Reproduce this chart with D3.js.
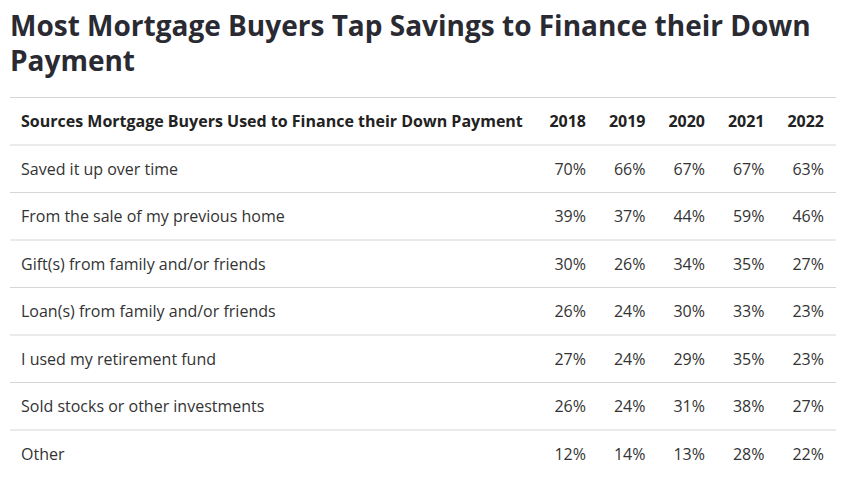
<!DOCTYPE html>
<html>
<head>
<meta charset="utf-8">
<script src="https://cdn.jsdelivr.net/npm/d3@7"></script>
<style>
  html, body { margin: 0; padding: 0; background: #fff; }
  svg { display: block; font-family: "Open Sans", sans-serif; }
</style>
</head>
<body>
<div id="chart"></div>
<script>
const titleLines = ['Most Mortgage Buyers Tap Savings to Finance their Down', 'Payment'];
const headerLabel = 'Sources Mortgage Buyers Used to Finance their Down Payment';
const years = ['2018', '2019', '2020', '2021', '2022'];
const sources = [
  'Saved it up over time',
  'From the sale of my previous home',
  'Gift(s) from family and/or friends',
  'Loan(s) from family and/or friends',
  'I used my retirement fund',
  'Sold stocks or other investments',
  'Other'
];
const v2018 = [70, 39, 30, 26, 27, 26, 12];
const v2019 = [66, 37, 26, 24, 24, 24, 14];
const v2020 = [67, 44, 34, 30, 29, 31, 13];
const v2021 = [67, 59, 35, 33, 35, 38, 28];
const v2022 = [63, 46, 27, 23, 23, 27, 22];
const series = [v2018, v2019, v2020, v2021, v2022];

const width = 846, height = 478;
const svg = d3.select('#chart').append('svg')
  .attr('width', width).attr('height', height);

// title
svg.append('g').selectAll('text').data(titleLines).enter()
  .append('text')
  .attr('x', 10)
  .attr('y', (d, i) => 36 + i * 35)
  .attr('fill', '#2a2a33')
  .attr('font-size', 28)
  .attr('font-weight', 700)
  .text(d => d);

// table scales
const rowKeys = ['header'].concat(sources);
const y = d3.scaleBand().domain(rowKeys).range([97, 97 + rowKeys.length * 47.5]);
const x = d3.scaleBand().domain(years).range([538.5, 836]);
const pad = 12;
const textY = d => y(d) + y.bandwidth() / 2 + 6.5;

// row separators
svg.append('g').selectAll('line').data(rowKeys).enter()
  .append('line')
  .attr('x1', 10).attr('x2', 836)
  .attr('y1', d => y(d) + 0.5).attr('y2', d => y(d) + 0.5)
  .attr('stroke', '#d6d6d6').attr('stroke-width', 1);

// header
const head = svg.append('g').attr('font-size', 16).attr('font-weight', 700).attr('fill', '#222');
head.append('text').attr('x', 21).attr('y', textY('header')).text(headerLabel);
head.selectAll('text.yr').data(years).enter()
  .append('text').attr('class', 'yr')
  .attr('x', d => x(d) + x.bandwidth() - pad)
  .attr('y', textY('header'))
  .attr('text-anchor', 'end')
  .text(d => d);

// body
const body = svg.append('g').attr('font-size', 16).attr('fill', '#333');
const rows = body.selectAll('g.row').data(sources).enter().append('g').attr('class', 'row');
rows.append('text').attr('x', 21).attr('y', d => textY(d)).text(d => d);
rows.selectAll('text.val').data((d, i) => years.map((yr, j) => ({ src: d, yr: yr, v: series[j][i] })))
  .enter().append('text').attr('class', 'val')
  .attr('x', d => x(d.yr) + x.bandwidth() - pad)
  .attr('y', d => textY(d.src))
  .attr('text-anchor', 'end')
  .text(d => d.v + '%');
</script>
</body>
</html>
